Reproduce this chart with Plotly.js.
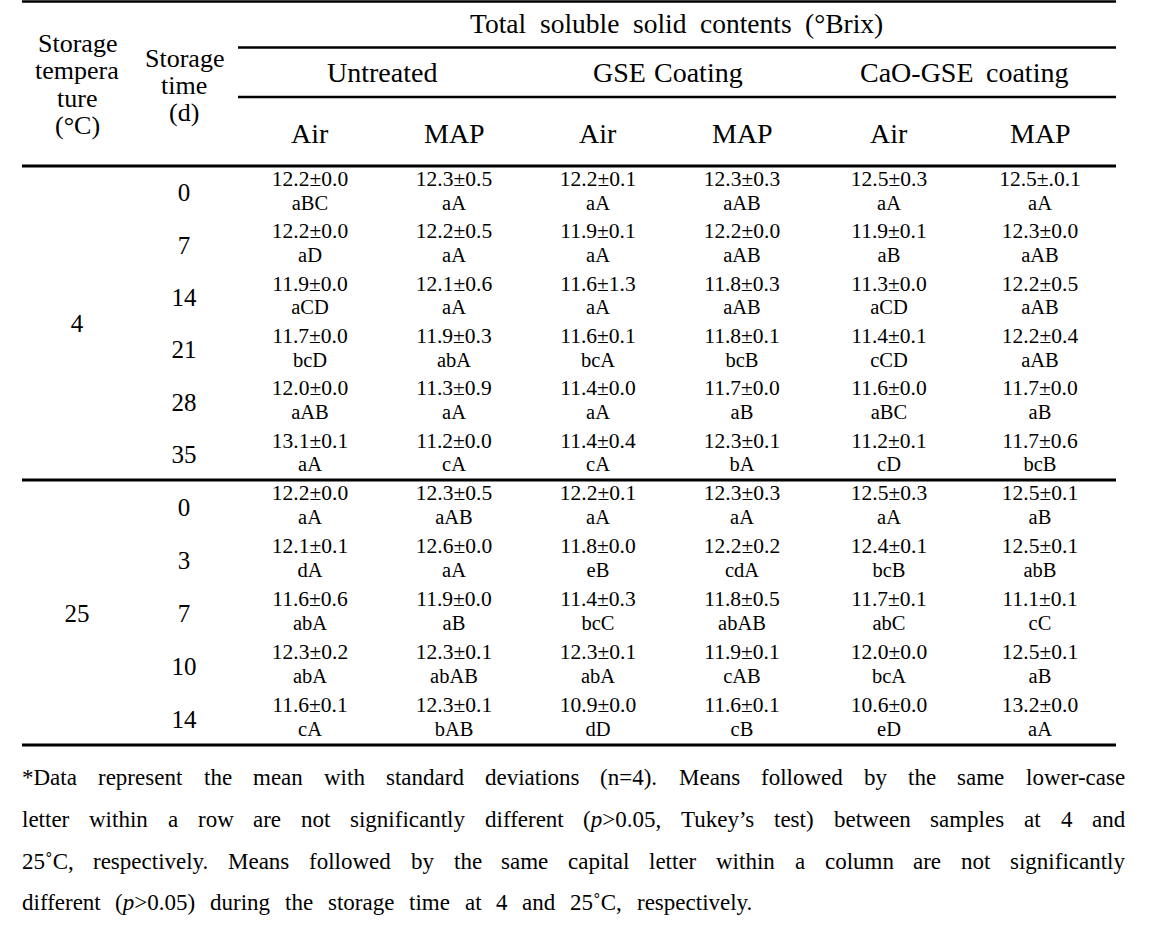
<!DOCTYPE html>
<html><head><meta charset="utf-8">
<script src="https://cdn.plot.ly/plotly-3.0.1.min.js"></script>
<style>html,body{margin:0;padding:0;background:#fff}</style>
</head><body><div id="chart" style="width:1164px;height:951px"></div>
<script>
// ---------------- data ----------------
const temps = ['4', '25'];
const days4 = ['0', '7', '14', '21', '28', '35'];
const days25 = ['0', '3', '7', '10', '14'];
const titleText = 'Total soluble solid contents (°Brix)';
const treatments = ['Untreated', 'GSE Coating', 'CaO-GSE coating'];
const atmospheres = ['Air', 'MAP', 'Air', 'MAP', 'Air', 'MAP'];
const headTemp = ['Storage', 'tempera', 'ture', '(°C)'];
const headTime = ['Storage', 'time', '(d)'];

const values4 = [
  ['12.2±0.0', '12.3±0.5', '12.2±0.1', '12.3±0.3', '12.5±0.3', '12.5±.0.1'],
  ['12.2±0.0', '12.2±0.5', '11.9±0.1', '12.2±0.0', '11.9±0.1', '12.3±0.0'],
  ['11.9±0.0', '12.1±0.6', '11.6±1.3', '11.8±0.3', '11.3±0.0', '12.2±0.5'],
  ['11.7±0.0', '11.9±0.3', '11.6±0.1', '11.8±0.1', '11.4±0.1', '12.2±0.4'],
  ['12.0±0.0', '11.3±0.9', '11.4±0.0', '11.7±0.0', '11.6±0.0', '11.7±0.0'],
  ['13.1±0.1', '11.2±0.0', '11.4±0.4', '12.3±0.1', '11.2±0.1', '11.7±0.6']
];
const letters4 = [
  ['aBC', 'aA', 'aA', 'aAB', 'aA', 'aA'],
  ['aD', 'aA', 'aA', 'aAB', 'aB', 'aAB'],
  ['aCD', 'aA', 'aA', 'aAB', 'aCD', 'aAB'],
  ['bcD', 'abA', 'bcA', 'bcB', 'cCD', 'aAB'],
  ['aAB', 'aA', 'aA', 'aB', 'aBC', 'aB'],
  ['aA', 'cA', 'cA', 'bA', 'cD', 'bcB']
];
const values25 = [
  ['12.2±0.0', '12.3±0.5', '12.2±0.1', '12.3±0.3', '12.5±0.3', '12.5±0.1'],
  ['12.1±0.1', '12.6±0.0', '11.8±0.0', '12.2±0.2', '12.4±0.1', '12.5±0.1'],
  ['11.6±0.6', '11.9±0.0', '11.4±0.3', '11.8±0.5', '11.7±0.1', '11.1±0.1'],
  ['12.3±0.2', '12.3±0.1', '12.3±0.1', '11.9±0.1', '12.0±0.0', '12.5±0.1'],
  ['11.6±0.1', '12.3±0.1', '10.9±0.0', '11.6±0.1', '10.6±0.0', '13.2±0.0']
];
const letters25 = [
  ['aA', 'aAB', 'aA', 'aA', 'aA', 'aB'],
  ['dA', 'aA', 'eB', 'cdA', 'bcB', 'abB'],
  ['abA', 'aB', 'bcC', 'abAB', 'abC', 'cC'],
  ['abA', 'abAB', 'abA', 'cAB', 'bcA', 'aB'],
  ['cA', 'bAB', 'dD', 'cB', 'eD', 'aA']
];
const footnoteLines = [
  '*Data represent the mean with standard deviations (n=4). Means followed by the same lower-case',
  'letter within a row are not significantly different (<i>p</i>>0.05, Tukey’s test) between samples at 4 and',
  '25˚C, respectively. Means followed by the same capital letter within a column are not significantly',
  'different (<i>p</i>>0.05) during the storage time at 4 and 25˚C, respectively.'
];

// ---------------- layout geometry ----------------
const FONT = '"Liberation Serif", "Times New Roman", serif';
const W = 1164, H = 951;
const tableL = 22, tableR = 1116, subL = 238;
const colX = [310, 454, 598, 742, 889, 1040];
const tempX = 77, dayX = 184;
const sections = [
  {top: 166, bottom: 480, temp: temps[0], days: days4, vals: values4, lets: letters4},
  {top: 480, bottom: 745, temp: temps[1], days: days25, vals: values25, lets: letters25}
];

const vx = [], vy = [], vt = [], lx = [], ly = [], lt = [];
const dx = [], dy = [], dt = [], tx = [], ty = [], tt = [];
sections.forEach(s => {
  const n = s.days.length, h = (s.bottom - s.top) / n;
  s.days.forEach((d, i) => {
    const c = s.top + (i + 0.5) * h;
    dx.push(dayX); dy.push(c + 3); dt.push(d);
    colX.forEach((x, j) => {
      vx.push(x); vy.push(c - 11.5); vt.push(s.vals[i][j]);
      lx.push(x); ly.push(c + 12.5); lt.push(s.lets[i][j]);
    });
  });
  tx.push(tempX); ty.push((s.top + s.bottom) / 2 + 3); tt.push(s.temp);
});

const txt = (x, y, t, size) => ({
  type: 'scatter', mode: 'text', x, y, text: t, textposition: 'middle center',
  textfont: {family: FONT, size, color: '#000'}, hoverinfo: 'skip', showlegend: false, cliponaxis: false
});

const traces = [
  txt(vx, vy, vt, 21.5),
  txt(lx, ly, lt, 20.5),
  txt(dx, dy, dt, 25),
  txt(tx, ty, tt, 25)
];

// header and footnote text as annotations
const ctx = document.createElement('canvas').getContext('2d');
function measure(t, size) {
  ctx.font = size + 'px "Liberation Serif"';
  return ctx.measureText(t.replace(/<[^>]+>/g, '')).width;
}
const anns = [];
function ann(x, y, text, size, anchor) {
  anns.push({x, y, xref: 'x', yref: 'y', text, showarrow: false, xanchor: anchor || 'center',
    yanchor: 'middle', borderpad: 0, borderwidth: 0, font: {family: FONT, size, color: '#000'}});
}
function justify(line, x0, x1, y, size) {
  const words = line.split(' ');
  const ws = words.map(w => measure(w, size));
  const total = ws.reduce((a, b) => a + b, 0);
  const gap = words.length > 1 ? (x1 - x0 - total) / (words.length - 1) : 0;
  let x = x0;
  words.forEach((w, k) => { ann(x, y, w, size, 'left'); x += ws[k] + gap; });
}

headTemp.forEach((t, k) => ann(tempX, 43 + k * 27.5, t, 26));
headTime.forEach((t, k) => ann(dayX, 58 + k * 27, t, 26));
justify(titleText, 470, 883, 23, 27.5);
ann((colX[0] + colX[1]) / 2, 72, treatments[0], 28);
justify(treatments[1], 593, 743, 72, 28);
justify(treatments[2], 860, 1068, 72, 28);
atmospheres.forEach((a, j) => ann(colX[j], 133, a, 28));

const footY = [777, 819, 861, 902];
const footR = [1125, 1125, 1125, 752];
footnoteLines.forEach((l, k) => justify(l, 22, footR[k], footY[k], 23));

const hline = (y, x0, x1, w) => ({type: 'line', xref: 'x', yref: 'y', x0, x1, y0: y, y1: y,
  line: {color: '#000', width: w}});
const shapes = [
  hline(1.5, tableL, tableR, 2.5),
  hline(47.5, subL, tableR, 2.5),
  hline(97, subL, tableR, 2.5),
  hline(166, tableL, tableR, 3),
  hline(480, tableL, tableR, 3),
  hline(745, tableL, tableR, 3)
];

const layout = {
  width: W, height: H, margin: {l: 0, r: 0, t: 0, b: 0},
  paper_bgcolor: '#fff', plot_bgcolor: '#fff', showlegend: false,
  xaxis: {range: [0, W], visible: false, fixedrange: true},
  yaxis: {range: [H, 0], visible: false, fixedrange: true},
  shapes, annotations: anns
};
Plotly.newPlot('chart', traces, layout, {staticPlot: true, displayModeBar: false});
</script></body></html>
